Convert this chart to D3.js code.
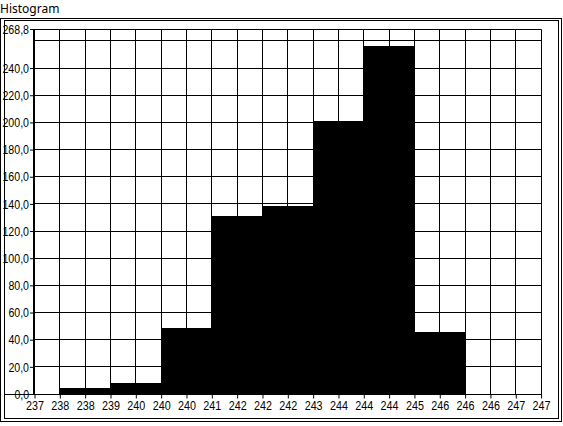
<!DOCTYPE html>
<html>
<head>
<meta charset="utf-8">
<script src="https://cdn.jsdelivr.net/npm/d3@7"></script>
<style>
  html, body { margin: 0; padding: 0; background: #fff; }
  svg { display: block; }
  text { fill: #000; }
</style>
</head>
<body>
<svg id="chart" width="563" height="426"></svg>
<script>
// ---- data ----
const title = "Histogram";
const xTickLabels = ["237","238","238","239","240","240","240","241","242","242","242",
                     "243","244","244","244","245","246","246","246","247","247"];
// histogram bins: each bin spans two tick intervals, first bin starts at tick 1
const binStartTick = [1, 3, 5, 7, 9, 11, 13, 15];
const binWidthTicks = 2;
const counts = [4, 8, 48, 131, 138, 201, 256, 45];
const yMax = 268.8;
const yTickValues = [0, 20, 40, 60, 80, 100, 120, 140, 160, 180, 200, 220, 240, 260];
const yLabelValues = [0, 20, 40, 60, 80, 100, 120, 140, 160, 180, 200, 220, 240, 268.8];

// ---- layout ----
const svg = d3.select("#chart");
const plot = { left: 34, right: 540.6, top: 28.5, bottom: 393.5 };
const labelFont = '"Liberation Sans", Arial, sans-serif';
const labelSize = "13px";
// narrow label face: fixed advance per glyph
const glyphW = ch => (ch === "," ? 2.6 : 6);
const textW = s => Array.from(s).reduce((a, c) => a + glyphW(c), 0);

const x = d3.scaleLinear().domain([0, xTickLabels.length - 1]).range([plot.left, plot.right]);
const y = d3.scaleLinear().domain([0, yMax]).range([plot.bottom, plot.top]);
const px = v => Math.round(v) + 0.5;

// title
svg.append("text").attr("x", 0).attr("y", 12.5)
  .style("font-family", '"Noto Sans", "Open Sans", sans-serif').style("font-size", "12px")
  .text(title);

// outer double frame
svg.append("rect").attr("x", 0.5).attr("y", 18.5).attr("width", 561).attr("height", 403)
  .attr("fill", "none").attr("stroke", "#000");
svg.append("rect").attr("x", 4.5).attr("y", 20.5).attr("width", 554).attr("height", 398)
  .attr("fill", "none").attr("stroke", "#000");

// bars
svg.append("g").selectAll("rect").data(counts).join("rect")
  .attr("x", (d, i) => Math.round(x(binStartTick[i])))
  .attr("width", (d, i) => Math.round(x(binStartTick[i] + binWidthTicks)) - Math.round(x(binStartTick[i])) + 1)
  .attr("y", d => Math.round(y(d)))
  .attr("height", d => Math.round(y(0)) - Math.round(y(d)))
  .attr("fill", "#000");

// grid
const grid = svg.append("g").attr("stroke", "#000").attr("stroke-width", 1);
grid.selectAll("line.v").data(d3.range(1, xTickLabels.length)).join("line")
  .attr("x1", d => px(x(d))).attr("x2", d => px(x(d)))
  .attr("y1", px(y(yMax))).attr("y2", px(y(0)));
grid.selectAll("line.h").data(yTickValues.concat([yMax])).join("line")
  .attr("x1", plot.left).attr("x2", px(x(xTickLabels.length - 1)))
  .attr("y1", d => px(y(d))).attr("y2", d => px(y(d)));

// x axis line extends to frame
svg.append("line").attr("x1", 4).attr("x2", px(x(xTickLabels.length - 1)))
  .attr("y1", px(y(0))).attr("y2", px(y(0))).attr("stroke", "#000");

// y axis (thick)
svg.append("line").attr("x1", 34).attr("x2", 34)
  .attr("y1", px(y(yMax)) - 0.5).attr("y2", px(y(0)) + 0.5)
  .attr("stroke", "#000").attr("stroke-width", 2);

// x axis ticks & labels
const xAxis = d3.axisBottom(x)
  .tickValues(d3.range(xTickLabels.length))
  .tickFormat(i => xTickLabels[i])
  .tickSize(4).tickPadding(2.5);
const gx = svg.append("g").attr("transform", `translate(0.5,${px(y(0))})`).call(xAxis);
gx.select(".domain").remove();
gx.selectAll("text").attr("fill", "#000")
  .style("font-family", labelFont).style("font-size", labelSize)
  .attr("textLength", function () { return textW(this.textContent); })
  .attr("lengthAdjust", "spacingAndGlyphs");
gx.selectAll("line").attr("stroke", "#000");

// y axis ticks & labels
const yAxis = d3.axisLeft(y)
  .tickValues(yLabelValues)
  .tickFormat(d => d3.format(".1f")(d).replace(".", ","))
  .tickSize(4).tickPadding(1);
const gy = svg.append("g").attr("transform", `translate(34,0.5)`).call(yAxis);
gy.select(".domain").remove();
gy.selectAll("text").attr("fill", "#000")
  .style("font-family", labelFont).style("font-size", labelSize)
  .attr("textLength", function () { return textW(this.textContent); })
  .attr("lengthAdjust", "spacingAndGlyphs");
gy.selectAll("line").attr("stroke", "#000");
</script>
</body>
</html>
